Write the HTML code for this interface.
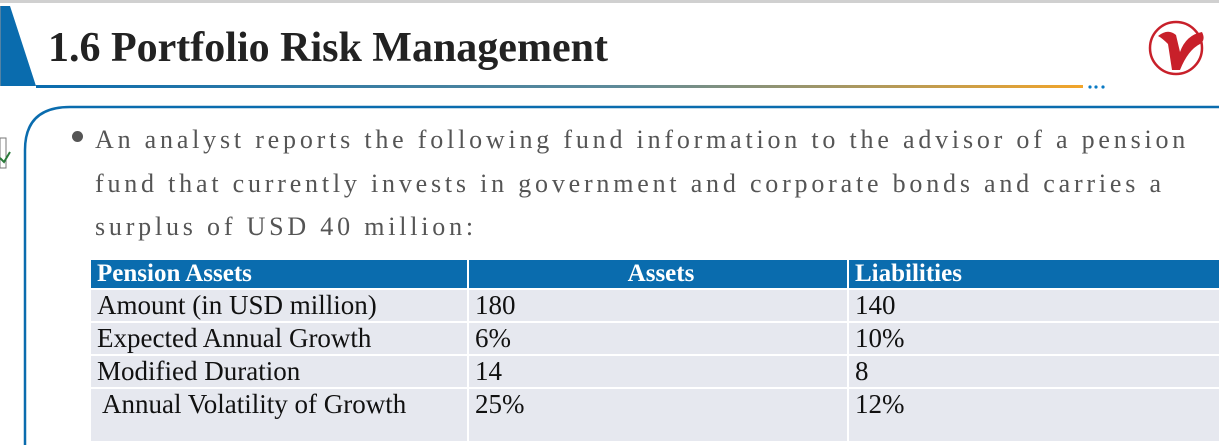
<!DOCTYPE html>
<html><head><style>
body{margin:0;width:1219px;height:445px;background:#fff;position:relative;overflow:hidden;font-family:"Liberation Serif",serif}
.abs{position:absolute}
.t{color:#555;font-size:26px;letter-spacing:3.8px;left:95px;white-space:nowrap}
table{position:absolute;left:89px;top:260px;width:1138px;border-collapse:collapse;font-size:27px;color:#111;table-layout:fixed}
td{padding:0 0 0 6px;height:31px;background:#e6e8ef;border:2px solid #fff;line-height:30px;vertical-align:top;white-space:nowrap}
th{background:#0a6cae;color:#fff;text-align:left;padding:0 0 0 6px;height:28px;font-size:25px;line-height:28px;border:2px solid #fff;border-top:0;white-space:nowrap}
</style></head><body>
<div class="abs" style="left:0;top:0;width:1219px;height:3px;background:#d0d0d0"></div>
<svg class="abs" style="left:0;top:0" width="1219" height="445">
<polygon points="0,6 10,6 36,86 0,86" fill="#0a6cae"/>
<line x1="0" y1="6" x2="0" y2="86" stroke="#999"/>
<defs><linearGradient id="g" x1="0" x2="1"><stop offset="0" stop-color="#0a6cae"/><stop offset="0.55" stop-color="#5d8a9a"/><stop offset="1" stop-color="#f2a52a"/></linearGradient></defs>
<rect x="36" y="85" width="1047" height="3" fill="url(#g)"/>
<circle cx="1090" cy="87" r="1.6" fill="#0a7ac4"/><circle cx="1096" cy="87" r="1.6" fill="#0a7ac4"/><circle cx="1103" cy="87" r="1.6" fill="#0a7ac4"/>
<path d="M25,445 L25,150 Q25,107 70,107 L1219,107" fill="none" stroke="#0a6cae" stroke-width="2.5"/>
<circle cx="1176" cy="48" r="26" fill="none" stroke="#c8202a" stroke-width="2.5"/>
<path d="M1158,36 Q1168,28 1176,35 L1180,52 Q1186,35 1202,32 Q1206,40 1200,44 Q1188,50 1180,70 L1172,70 L1168,44 Q1162,38 1158,36Z" fill="#c8202a"/>
<rect x="0" y="138" width="6" height="30" fill="none" stroke="#777"/>
<path d="M0,158 L4,162 L10,152" stroke="#2a7a3a" stroke-width="2" fill="none"/>
</svg>
<div class="abs" style="left:48px;top:24px;font-size:42px;font-weight:bold;color:#222">1.6 Portfolio Risk Management</div>
<div class="abs" style="left:72px;top:131px;width:11px;height:11px;border-radius:50%;background:#555"></div>
<div class="abs t" style="top:125px">An analyst reports the following fund information to the advisor of a pension</div>
<div class="abs t" style="top:169px">fund that currently invests in government and corporate bonds and carries a</div>
<div class="abs t" style="top:212px">surplus of USD 40 million:</div>
<table>
<colgroup><col style="width:378px"><col style="width:380px"><col style="width:380px"></colgroup>
<tr><th>Pension Assets</th><th style="text-align:center">Assets</th><th>Liabilities</th></tr>
<tr><td>Amount (in USD million)</td><td>180</td><td>140</td></tr>
<tr><td>Expected Annual Growth</td><td>6%</td><td>10%</td></tr>
<tr><td>Modified Duration</td><td>14</td><td>8</td></tr>
<tr><td style="height:52px;padding-left:11px">Annual Volatility of Growth</td><td style="height:52px">25%</td><td style="height:52px">12%</td></tr>
</table>
</body></html>
